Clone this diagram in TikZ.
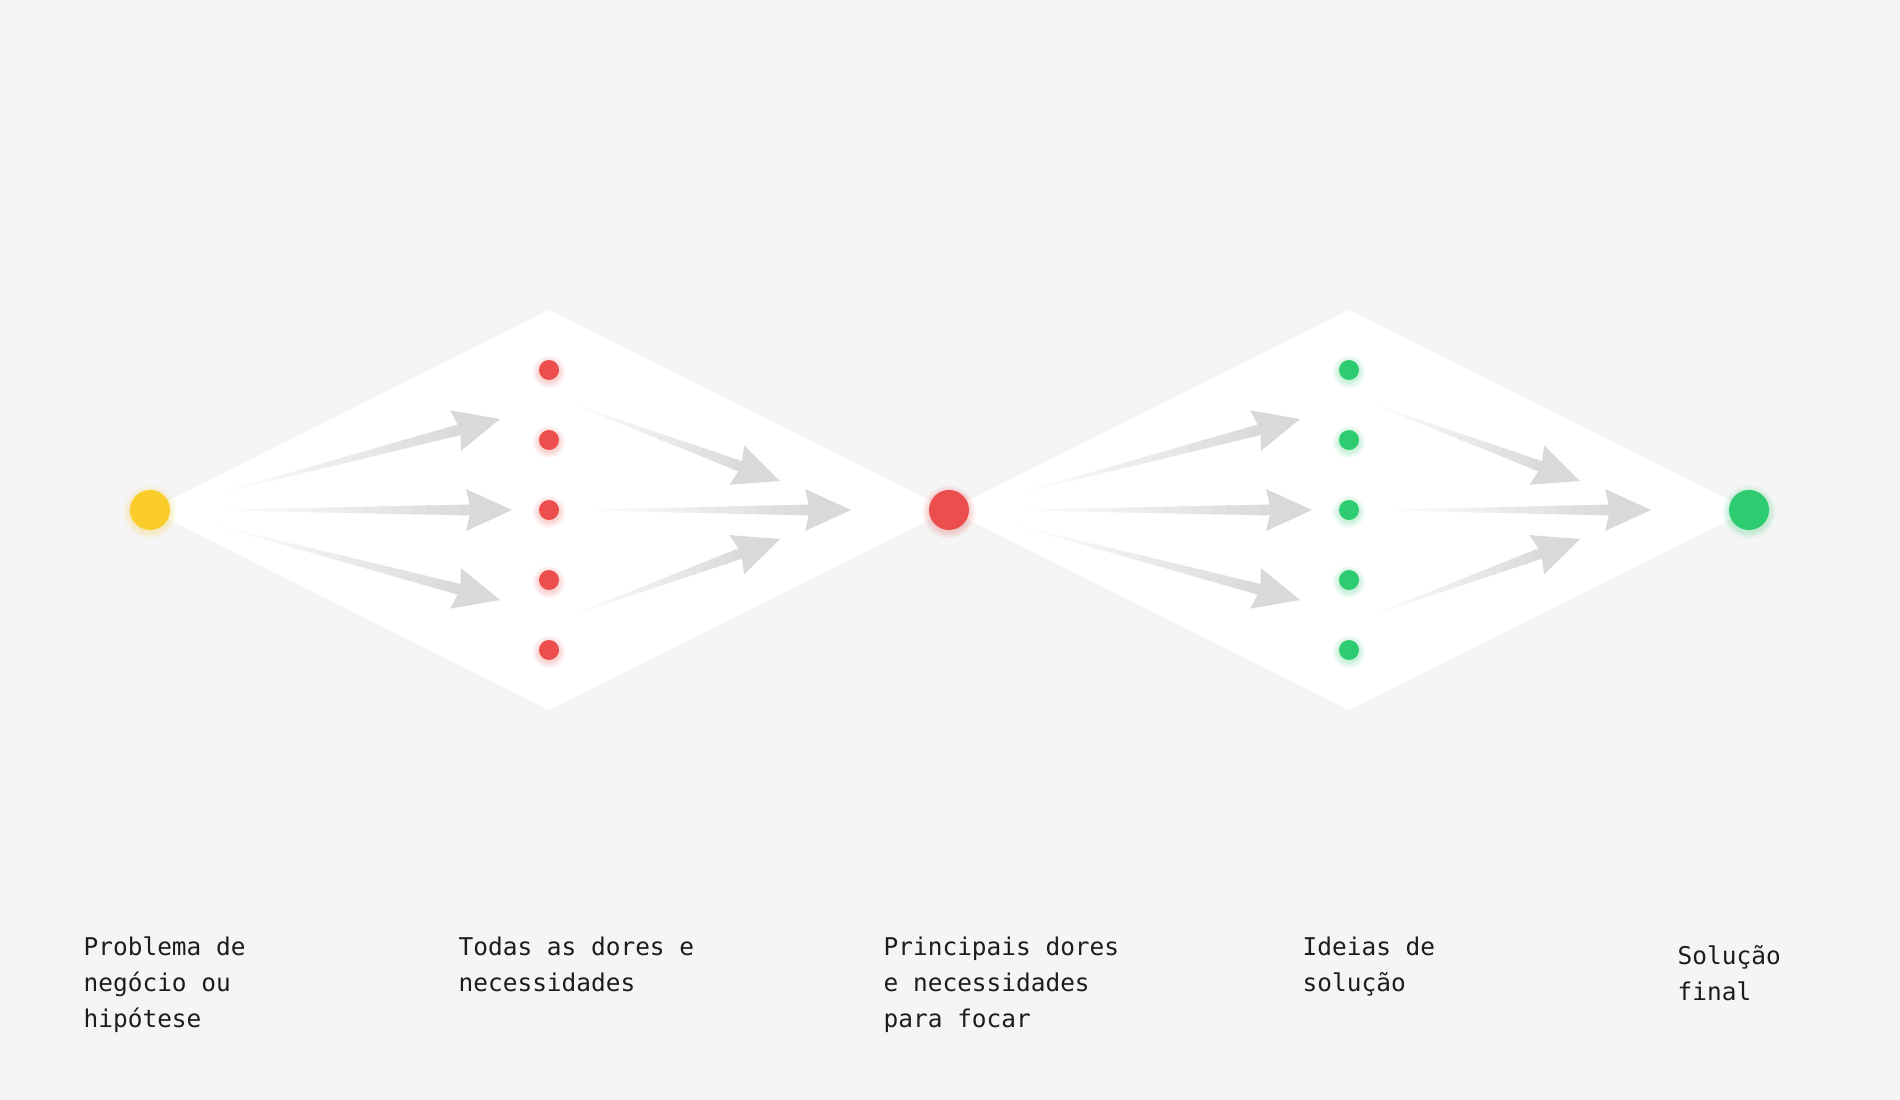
\documentclass[tikz,border=0pt]{standalone}
\usepackage{fontspec}
\setmonofont{DejaVu Sans Mono}
\usetikzlibrary{calc}

\definecolor{fundo}{HTML}{F5F5F5}
\definecolor{amarelo}{HTML}{FBCD2B}
\definecolor{vermelho}{HTML}{EC4E4E}
\definecolor{verde}{HTML}{2ECC71}
\definecolor{setaclara}{HTML}{FEFEFE}
\definecolor{setaescura}{HTML}{D9D9D9}
\definecolor{texto}{HTML}{1C1C1C}

\tikzset{
  rotulo/.style={anchor=base west, inner sep=0pt, align=left, text=texto,
    font=\ttfamily\fontsize{6.95}{10.1}\selectfont},
  ponto/.style={circle, inner sep=0pt, fill=#1},
}

% seta afilada: #1 inicio, #2 ponta
\newcommand{\seta}[2]{%
  \coordinate (p) at ($(#2)!0.38cm!(#1)$);
  \foreach \k in {0,...,15} {
    \pgfmathsetmacro{\ta}{\k/16}
    \pgfmathsetmacro{\tb}{(\k+1.4)/16}
    \pgfmathsetmacro{\wa}{0.003+0.052*\ta}
    \pgfmathsetmacro{\wb}{0.003+0.052*\tb}
    \pgfmathsetmacro{\pc}{100*(\k+0.5)/16}
    \fill[setaescura!\pc!setaclara]
      ($(#1)!\ta!(p)!\wa cm!90:(#2)$) -- ($(#1)!\tb!(p)!\wb cm!90:(#2)$)
      -- ($(#1)!\tb!(p)!\wb cm!-90:(#2)$) -- ($(#1)!\ta!(p)!\wa cm!-90:(#2)$) -- cycle;
  }
  \fill[setaescura] (#2) -- ($(#2)!0.46cm!(#1)!0.21cm!90:(#2)$)
    -- ($(#2)!0.41cm!(#1)$) -- ($(#2)!0.46cm!(#1)!0.21cm!-90:(#2)$) -- cycle;
}
% halo: #1 centro, #2 cor, #3 raio
\newcommand{\brilho}[3]{%
  \foreach \g in {1,...,6}
    \fill[#2, opacity=0.045] ([yshift=-0.02cm]#1) circle [radius={#3+\g*0.011cm}];
}

\begin{document}
\begin{tikzpicture}[x=0.01cm, y=-0.01cm]
    \fill[fundo] (0,0) rectangle (1900,1100);
    \useasboundingbox (0,0) rectangle (1900,1100);
    \coordinate (problema) at (150,510);
    \coordinate (focar) at (949,510);
    \coordinate (final) at (1749,510);
    % losangos
    \fill[white] (problema) -- (549,310) -- (focar) -- (549,710) -- cycle;
    \fill[white] (focar) -- (1349,310) -- (final) -- (1349,710) -- cycle;
    % setas
    \foreach \dx in {0,800} {
      \foreach \i/\sx/\sy/\tx/\ty in {1/220/493/500/419, 2/220/510/512/510,
          3/218/526/500/600, 4/575/405/780/481, 5/587/510/851/510, 6/575/614/780/539} {
        \coordinate (ini\dx-\i) at (\sx+\dx,\sy);
        \coordinate (fim\dx-\i) at (\tx+\dx,\ty);
        \seta{ini\dx-\i}{fim\dx-\i}
      }
    }
    % pontos
    \brilho{problema}{amarelo}{0.2cm}
    \brilho{focar}{vermelho}{0.2cm}
    \brilho{final}{verde}{0.2cm}
    \node[ponto=amarelo, minimum size=0.4cm] (hipotese) at (problema) {};
    \node[ponto=vermelho, minimum size=0.4cm] (principais) at (focar) {};
    \node[ponto=verde, minimum size=0.4cm] (solucao) at (final) {};
    \foreach \i in {1,...,5} {
      \coordinate (c\i) at (549,370+70*\i-70);
      \coordinate (d\i) at (1349,370+70*\i-70);
      \brilho{c\i}{vermelho}{0.095cm}
      \brilho{d\i}{verde}{0.095cm}
      \node[ponto=vermelho, minimum size=0.2cm] (dor\i) at (c\i) {};
      \node[ponto=verde, minimum size=0.2cm] (ideia\i) at (d\i) {};
    }
    % rotulos (base = ultima linha)
    \node[rotulo] (r1) at (83,1027) {Problema de\\negócio ou\\hipótese};
    \node[rotulo] (r2) at (458,991) {Todas as dores e\\necessidades};
    \node[rotulo] (r3) at (883,1027) {Principais dores\\e necessidades\\para focar};
    \node[rotulo] (r4) at (1302,991) {Ideias de\\solução};
    \node[rotulo] (r5) at (1677,1000) {Solução\\final};
\end{tikzpicture}
\end{document}
